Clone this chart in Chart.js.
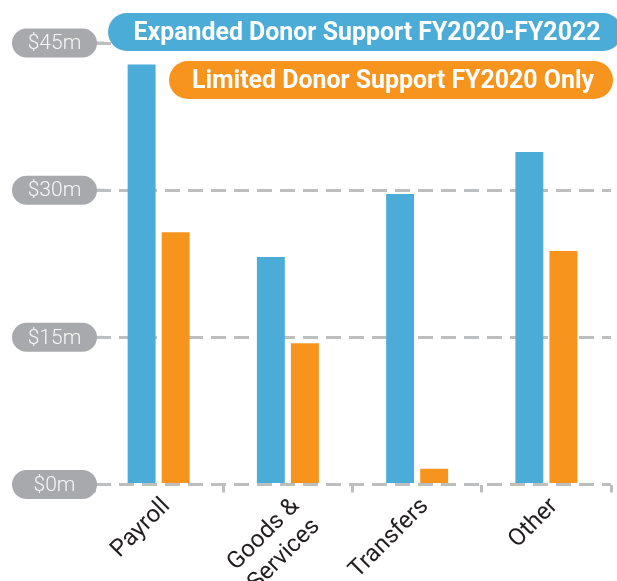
<!DOCTYPE html>
<html><head><meta charset="utf-8">
<script src="https://cdn.jsdelivr.net/npm/chart.js@4/dist/chart.umd.min.js"></script>
<style>html,body{margin:0;padding:0;background:#fff}#wrap{width:617px;height:581px}</style>
</head><body><div id="wrap"><canvas id="c" width="617" height="581"></canvas></div>
<script>
const categories = ['Payroll', ['Goods &', 'Services'], 'Transfers', 'Other'];
const seriesNames = ['Expanded Donor Support FY2020-FY2022', 'Limited Donor Support FY2020 Only'];
const expandedValues = [42.8, 23.2, 29.6, 33.9];
const limitedValues = [25.7, 14.4, 1.6, 23.8];
const yTickValues = [0, 15, 30, 45];
const yTickLabels = ['$0m', '$15m', '$30m', '$45m'];

const BLUE = '#4badd7';
const ORANGE = '#f7941e';
const GRID = '#bcbec0';
const PILL = '#a7a9ac';

function pillPath(ctx, x, y, w, h) {
  const r = h / 2;
  ctx.beginPath();
  ctx.moveTo(x + r, y);
  ctx.lineTo(x + w - r, y);
  ctx.arc(x + w - r, y + r, r, -Math.PI / 2, Math.PI / 2);
  ctx.lineTo(x + r, y + h);
  ctx.arc(x + r, y + r, r, Math.PI / 2, Math.PI * 1.5);
  ctx.closePath();
}

const yPills = {
  id: 'yPills',
  afterDraw(chart) {
    const ctx = chart.ctx;
    const s = chart.scales.y;
    ctx.save();
    s.ticks.forEach(t => {
      const y = s.getPixelForValue(t.value);
      const i = yTickValues.indexOf(t.value);
      const label = i >= 0 ? yTickLabels[i] : '';
      ctx.strokeStyle = GRID; ctx.lineWidth = 3;
      ctx.beginPath(); ctx.moveTo(95, y); ctx.lineTo(104, y); ctx.stroke();
      pillPath(ctx, 12, y - 14.5, 85, 29);
      ctx.fillStyle = PILL; ctx.fill();
      ctx.fillStyle = '#f7f7f7';
      ctx.font = '300 21px Roboto';
      ctx.textAlign = 'center'; ctx.textBaseline = 'middle';
      ctx.fillText(label, 54.5, y + 1);
    });
    ctx.restore();
  }
};

const legendPills = {
  id: 'legendPills',
  afterDraw(chart) {
    const ctx = chart.ctx;
    const boxes = [
      {x: 108, y: 13, w: 514, h: 38, tw: 467},
      {x: 169, y: 61, w: 444, h: 38, tw: 402}
    ];
    ctx.save();
    chart.data.datasets.forEach((ds, i) => {
      const b = boxes[i];
      pillPath(ctx, b.x, b.y, b.w, b.h);
      ctx.fillStyle = ds.backgroundColor; ctx.fill();
      ctx.font = 'bold 26px Roboto';
      const m = ctx.measureText(ds.label).width;
      const sx = b.tw / m;
      ctx.save();
      ctx.translate(b.x + b.w / 2 + 2, b.y + b.h / 2 + 1);
      ctx.scale(sx, 1);
      ctx.fillStyle = '#ffffff';
      ctx.textAlign = 'center'; ctx.textBaseline = 'middle';
      ctx.fillText(ds.label, 0, 0);
      ctx.restore();
    });
    ctx.restore();
  }
};

new Chart(document.getElementById('c'), {
  type: 'bar',
  data: {
    labels: categories,
    datasets: [
      {label: seriesNames[0], data: expandedValues, backgroundColor: BLUE,
       categoryPercentage: 0.527, barPercentage: 0.82},
      {label: seriesNames[1], data: limitedValues, backgroundColor: ORANGE,
       categoryPercentage: 0.527, barPercentage: 0.82}
    ]
  },
  options: {
    responsive: false,
    animation: false,
    layout: {padding: {left: 94, right: 6, top: 43, bottom: 0}},
    plugins: {legend: {display: false}, tooltip: {enabled: false}},
    scales: {
      x: {
        grid: {display: true, drawOnChartArea: false, drawTicks: true, tickLength: 8,
               color: GRID, lineWidth: 3, offset: true},
        border: {display: false},
        ticks: {color: '#231f20', font: {family: 'Roboto', size: 24, weight: '400'},
                minRotation: 45, maxRotation: 45, padding: 0, labelOffset: 8},
        afterFit(s) { s.height = 96.5; }
      },
      y: {
        min: 0, max: 45,
        grid: {color: GRID, lineWidth: 3, drawTicks: false},
        border: {display: false, dash: [15, 8], dashOffset: 21},
        ticks: {display: false, stepSize: 15},
        afterFit(s) { s.width = 0; }
      }
    }
  },
  plugins: [yPills, legendPills]
});
</script></body></html>
